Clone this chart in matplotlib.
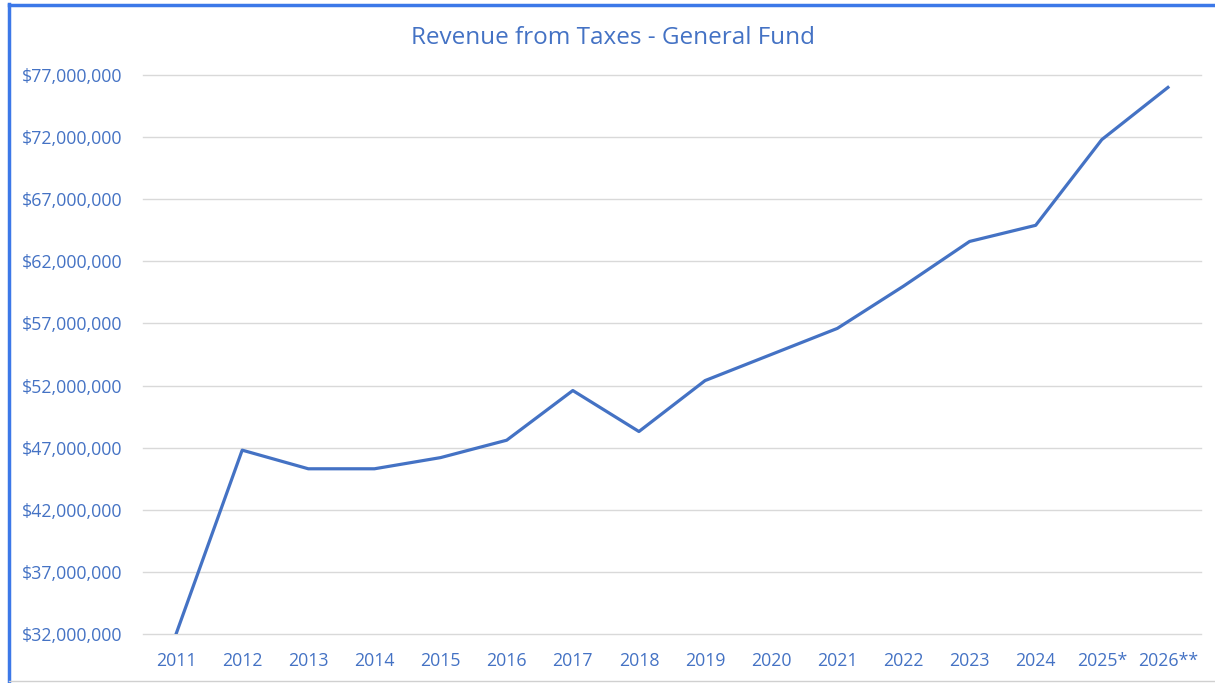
import matplotlib
matplotlib.use("Agg")
import matplotlib.pyplot as plt
from matplotlib.lines import Line2D
from matplotlib.ticker import FuncFormatter

years = ["2011", "2012", "2013", "2014", "2015", "2016", "2017", "2018",
         "2019", "2020", "2021", "2022", "2023", "2024", "2025*", "2026**"]
revenue = [32.0e6, 46.8e6, 45.3e6, 45.3e6, 46.2e6, 47.6e6, 51.6e6, 48.3e6,
           52.4e6, 54.5e6, 56.6e6, 60.0e6, 63.6e6, 64.9e6, 71.8e6, 76.0e6]
y_ticks = [32e6, 37e6, 42e6, 47e6, 52e6, 57e6, 62e6, 67e6, 72e6, 77e6]

BLUE = "#4472C4"
plt.rcParams['font.family'] = ['Open Sans', 'DejaVu Sans']

fig = plt.figure(figsize=(12.15, 6.83), dpi=100)
ax = fig.add_axes([143/1215, 1 - 634/683, (1201-143)/1215, (634-75)/683])

x = list(range(len(years)))
ax.plot(x, revenue, color=BLUE, linewidth=2.3, solid_joinstyle='round', clip_on=True, zorder=3)

ax.set_xlim(-0.5, len(years) - 0.5)
ax.set_ylim(y_ticks[0], y_ticks[-1])
ax.set_yticks(y_ticks)
ax.yaxis.set_major_formatter(FuncFormatter(lambda v, p: f"${v:,.0f}"))
ax.set_xticks(x)
ax.set_xticklabels(years)
ax.tick_params(axis='both', length=0, colors=BLUE, labelsize=12.8)
ax.tick_params(axis='y', pad=15)
ax.tick_params(axis='x', pad=13)
ax.grid(axis='y', color='#D9D9D9', linewidth=1)
for gl in ax.get_ygridlines():
    gl.set_clip_on(False)
ax.set_axisbelow(True)
for s in ax.spines.values():
    s.set_visible(False)

fig.text(613/1215, 1 - 38/683, "Revenue from Taxes - General Fund", ha='center', va='center',
         color=BLUE, fontsize=17.5)

# frame lines
fig.add_artist(Line2D([8.5/1215, 8.5/1215], [0, 1 - 4/683], transform=fig.transFigure,
                      color='#3C78E8', linewidth=2.5))
fig.add_artist(Line2D([8.5/1215, 1], [1 - 4.5/683, 1 - 4.5/683], transform=fig.transFigure,
                      color='#3C78E8', linewidth=2.5))
fig.add_artist(Line2D([9/1215, 1], [1 - 681/683, 1 - 681/683], transform=fig.transFigure,
                      color='#D0D0D0', linewidth=1))

fig.savefig("out.png", dpi=100, facecolor='white')
